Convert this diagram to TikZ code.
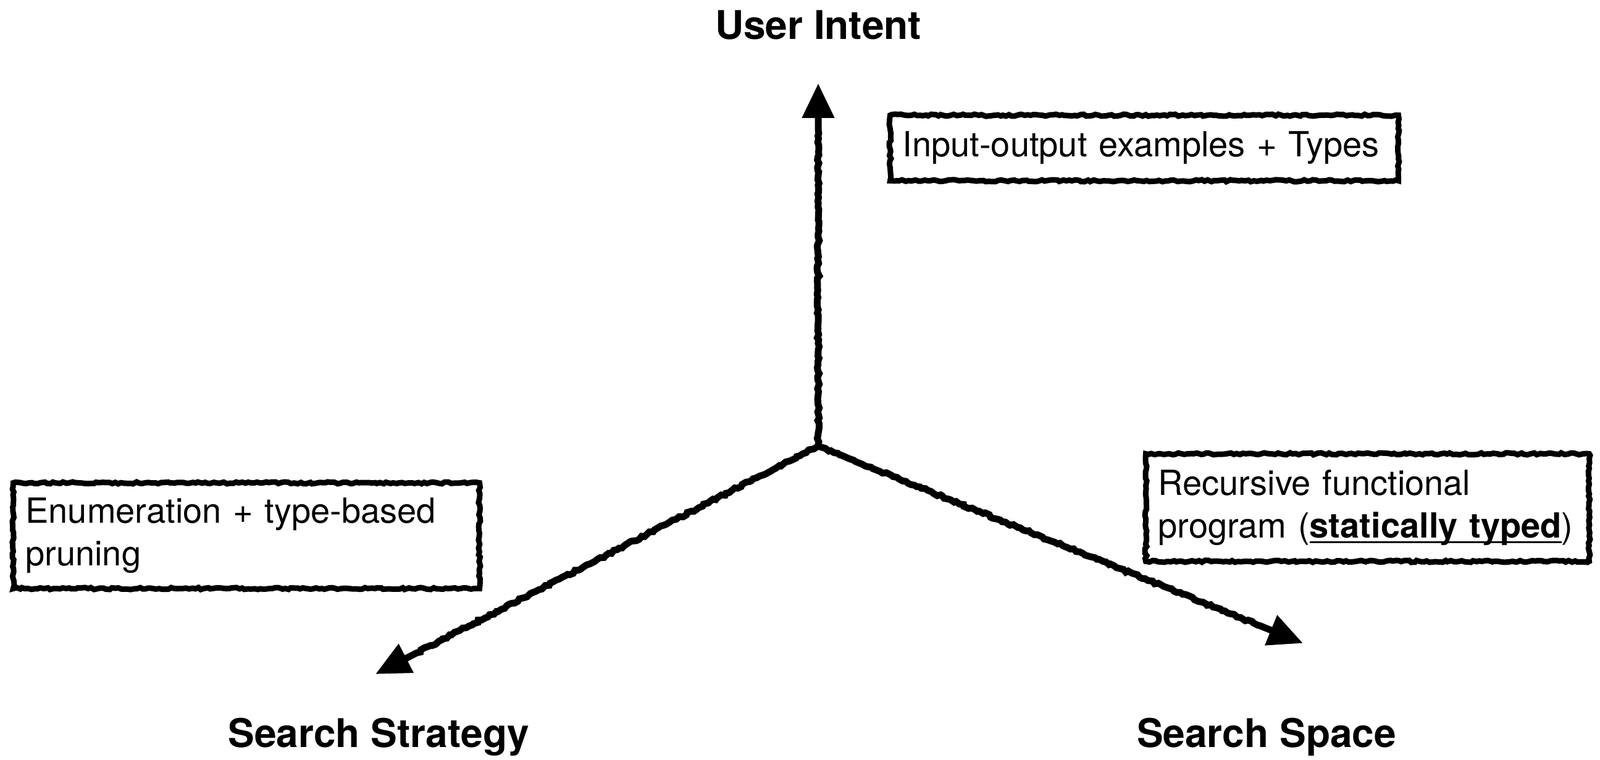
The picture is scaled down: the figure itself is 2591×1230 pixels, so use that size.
\documentclass[tikz,border=0pt]{standalone}
\usepackage{fontspec}
\setmainfont{TeX Gyre Heros}
\usetikzlibrary{arrows.meta,decorations.pathmorphing}
\newcommand{\myul}[1]{\setbox0\hbox{#1}\rlap{\rule[-0.16em]{\wd0}{0.06em}}\box0}
\begin{document}
\begin{tikzpicture}[x=1pt,y=-1pt,
  rough/.style={decorate,decoration={random steps,segment length=5pt,amplitude=1.6pt}},
  axis/.style={line width=11pt,-{Triangle[length=56pt,width=50pt]},
    decoration={random steps,segment length=5pt,amplitude=1.8pt,pre length=2pt,post length=75pt},decorate},
  infobox/.style={draw,line width=9pt,rough,align=left,anchor=north west,
    font=\fontsize{56}{69}\selectfont,inner xsep=20pt,inner ysep=0pt},
  title/.style={font=\fontsize{64}{76}\selectfont\bfseries}]
\useasboundingbox (0,0) rectangle (2591,1230);
\coordinate (c) at (1325,722);
\coordinate (up) at (1325,135);
\coordinate (lt) at (608,1091);
\coordinate (rt) at (2110,1041);
\draw[axis] (c) -- (up);
\draw[axis] (c) -- (lt);
\draw[axis] (c) -- (rt);
\node[title] (ui) at (1325,41) {User Intent};
\node[title] (ss) at (613,1193) {Search Strategy};
\node[title] (sp) at (2051,1193) {Search Space};
\node[infobox,minimum width=823pt,minimum height=106pt,text width=783pt] (b1) at (1437,182)
  {Input-output examples + Types};
\node[infobox,minimum width=755pt,minimum height=171pt,text width=715pt] (b2) at (17,777)
  {Enumeration + type-based\\pruning};
\node[infobox,minimum width=718pt,minimum height=174pt,text width=678pt] (b3) at (1851,730)
  {Recursive functional\\program (\myul{\textbf{statically typed}})};
\end{tikzpicture}
\end{document}
